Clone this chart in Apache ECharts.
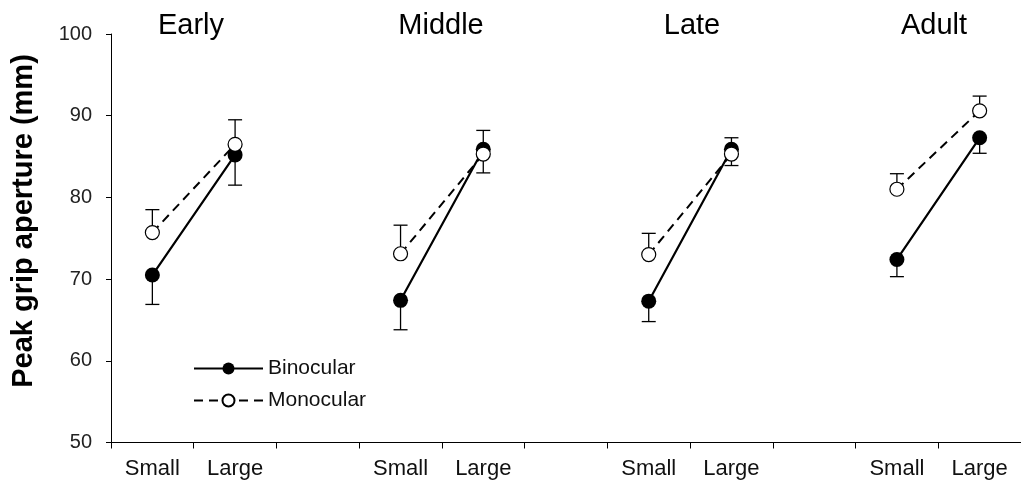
<!DOCTYPE html>
<html>
<head>
<meta charset="utf-8">
<script src="https://cdn.jsdelivr.net/npm/echarts@6/dist/echarts.min.js"></script>
<style>html,body{margin:0;padding:0;background:#fff;}#chart{width:1021px;height:489px;}</style>
</head>
<body>
<div id="chart"></div>
<script>
// ---- data ----
var categories = ['Small','Large','','Small','Large','','Small','Large','','Small','Large'];
var groupTitles = ['Early','Middle','Late','Adult'];
var binocular = [70.5, 85.2, null, 67.4, 85.9, null, 67.3, 85.9, null, 72.4, 87.3];
var binocularLow = [66.9, 81.5, null, 63.8, 83.0, null, 64.8, 83.9, null, 70.3, 85.4];
var monocular = [75.7, 86.5, null, 73.1, 85.3, null, 73.0, 85.3, null, 81.0, 90.6];
var monocularHigh = [78.5, 89.5, null, 76.6, 88.2, null, 75.6, 87.3, null, 82.9, 92.4];
var yTicks = [50, 60, 70, 80, 90, 100];

var FONT = '"Liberation Sans", Arial, sans-serif';

function errData(vals, ends) {
  var out = [];
  for (var i = 0; i < vals.length; i++) {
    if (vals[i] != null && ends[i] != null) out.push([i, vals[i], ends[i]]);
  }
  return out;
}

function errRender(params, api) {
  var x = api.value(0);
  var p1 = api.coord([x, api.value(1)]);
  var p2 = api.coord([x, api.value(2)]);
  var cap = 7;
  return {
    type: 'group',
    children: [
      { type: 'line', shape: { x1: p1[0], y1: p1[1], x2: p2[0], y2: p2[1] }, style: { stroke: '#000', lineWidth: 1.3 } },
      { type: 'line', shape: { x1: p2[0] - cap, y1: p2[1], x2: p2[0] + cap, y2: p2[1] }, style: { stroke: '#000', lineWidth: 1.3 } }
    ]
  };
}

var chart = echarts.init(document.getElementById('chart'), null, { renderer: 'canvas' });

// group title positions (centres over the Small/Large pairs)
var titleX = [191, 441, 692, 934];
var graphics = groupTitles.map(function (t, i) {
  return { type: 'text', x: titleX[i], y: 26, style: { text: t, textAlign: 'center', textVerticalAlign: 'middle', font: '29px ' + FONT, fill: '#000' } };
});
graphics.push({
  type: 'text', x: 24, y: 221, rotation: Math.PI / 2,
  style: { text: 'Peak grip aperture (mm)', textAlign: 'center', textVerticalAlign: 'middle', font: 'bold 29px ' + FONT, fill: '#000' }
});

chart.setOption({
  animation: false,
  backgroundColor: '#fff',
  textStyle: { fontFamily: FONT },
  grid: { left: 111, right: -4, top: 34, bottom: 46.5, containLabel: false },
  graphic: graphics,
  legend: {
    data: ['Binocular', 'Monocular'],
    orient: 'vertical',
    left: 193, top: 358,
    itemWidth: 69, itemHeight: 15, itemGap: 11,
    textStyle: { fontSize: 21, color: '#111', fontFamily: FONT, padding: [0, 0, 0, 0] },
    padding: 0
  },
  xAxis: {
    type: 'category',
    data: categories,
    boundaryGap: true,
    axisLine: { lineStyle: { color: '#000', width: 1 } },
    axisTick: { show: true, length: 6, lineStyle: { color: '#000' } },
    axisLabel: { color: '#111', fontSize: 22, margin: 15, interval: 0 },
    splitLine: { show: false }
  },
  yAxis: {
    type: 'value',
    min: yTicks[0], max: yTicks[yTicks.length - 1], interval: 10,
    axisLine: { show: true, lineStyle: { color: '#000', width: 1 } },
    axisTick: { show: true, length: 5, lineStyle: { color: '#000' } },
    axisLabel: { color: '#222', fontSize: 20, margin: 19 },
    splitLine: { show: false }
  },
  series: [
    { type: 'custom', name: 'binErr', renderItem: errRender, data: errData(binocular, binocularLow), z: 1, silent: true },
    { type: 'custom', name: 'monoErr', renderItem: errRender, data: errData(monocular, monocularHigh), z: 1, silent: true },
    {
      type: 'line', name: 'Binocular', data: binocular, connectNulls: false, z: 3,
      symbol: 'circle', symbolSize: 15,
      lineStyle: { color: '#000', width: 2.2 },
      itemStyle: { color: '#000', borderColor: '#000', borderWidth: 0 }
    },
    {
      type: 'line', name: 'Monocular', data: monocular, connectNulls: false, z: 4,
      symbol: 'circle', symbolSize: 14,
      lineStyle: { color: '#000', width: 2, type: [9, 6] },
      itemStyle: { color: '#fff', borderColor: '#000', borderWidth: 1.2 }
    }
  ]
});
</script>
</body>
</html>
